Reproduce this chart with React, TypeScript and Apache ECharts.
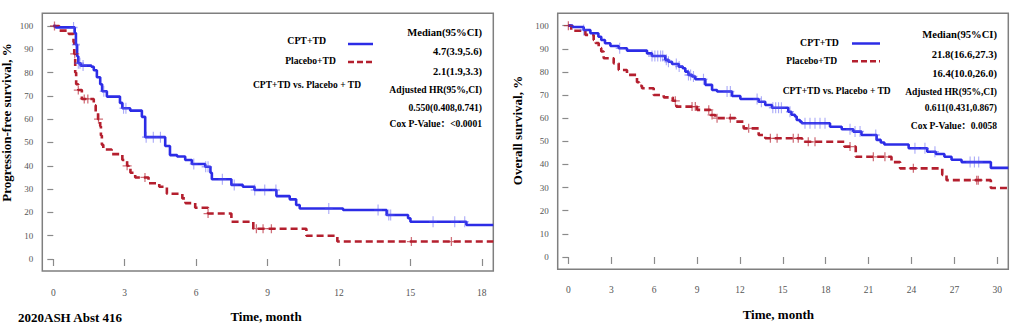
import React, { useEffect, useRef } from 'react';
import * as echarts from 'echarts';

// ---------- PFS (left) ----------
const pfsXTicks = [0, 3, 6, 9, 12, 15, 18];
const yTicks = [0, 10, 20, 30, 40, 50, 60, 70, 80, 90, 100];

const pfsCptTime = [0, 0.1, 0.9, 0.95, 1.0, 1.05, 1.15, 1.6, 1.7, 1.83, 1.97, 2.05, 2.25, 2.8, 2.9, 3.23, 3.72, 3.86, 4.7, 4.9, 5.2, 5.54, 5.82, 6.38, 6.6, 6.66, 7.48, 7.96, 8.45, 9.37, 9.93, 10.2, 10.35, 12.17, 14.0, 14.9, 15.0, 17.35];
const pfsCptSurv = [100, 99.4, 97, 92, 87, 84, 83, 82.5, 81, 78, 75, 72, 69.7, 67, 64.7, 63.7, 61, 52.3, 48.5, 44.6, 44, 42.5, 40.8, 39.6, 37, 34.2, 31.8, 31.0, 29.6, 27.0, 25.6, 23.2, 21.7, 21.0, 18.9, 17.5, 16.0, 14.6];
const pfsCptCensor = [0.85, 0.95, 1.05, 1.12, 1.25, 2.12, 2.95, 3.05, 3.9, 4.2, 4.5, 5.9, 6.4, 6.5, 7.1, 7.6, 8.46, 8.88, 9.35, 11.57, 13.64, 14.09, 14.17, 15.95, 16.86, 17.28];

const pfsPboTime = [0, 0.25, 0.65, 0.85, 0.88, 0.92, 0.96, 1.05, 1.2, 1.7, 1.78, 1.88, 1.97, 2.0, 2.04, 2.1, 2.45, 2.9, 3.1, 3.16, 3.24, 3.44, 4.0, 4.45, 4.77, 5.42, 5.55, 5.96, 6.5, 7.48, 8.4, 10.63, 11.93];
const pfsPboSurv = [100, 98, 96.6, 93, 88, 80, 75, 72.5, 68.7, 66, 63, 60, 57, 53, 49, 47, 45, 42.5, 40, 39, 37, 35, 32.5, 31, 28, 26, 24, 22, 19.5, 16, 13, 10, 7.5];
const pfsPboCensor = [0.05, 0.9, 1.05, 1.3, 1.45, 1.9, 3.1, 3.85, 6.5, 8.53, 8.81, 9.16, 15.04, 16.72];

// ---------- OS (right) ----------
const osXTicks = [0, 3, 6, 9, 12, 15, 18, 21, 24, 27, 30];

const osCptTime = [0, 0.3, 1.07, 1.54, 2.1, 2.3, 2.56, 2.94, 3.52, 4.1, 5.5, 5.85, 6.78, 7.0, 7.25, 7.72, 8.0, 8.18, 8.4, 8.65, 8.88, 9.58, 10.05, 10.4, 11.45, 12.03, 13.31, 13.77, 14.24, 15.38, 15.6, 15.85, 15.97, 16.2, 16.32, 18.3, 19.12, 19.93, 20.5, 21.56, 21.85, 22.1, 23.8, 25.1, 25.7, 26.3, 26.8, 27.5, 29.55];
const osCptSurv = [100, 99.4, 98.1, 96.7, 95.2, 93.8, 92.4, 91.2, 90.2, 89.2, 88, 86.9, 85.2, 84.4, 83.4, 82.3, 81.6, 80.1, 78.7, 78, 76.8, 74.4, 72.2, 71.5, 69.6, 68.3, 67.1, 65.7, 64.5, 62.8, 61.5, 60.7, 59.2, 58.5, 57.8, 56.3, 55.2, 54.2, 52.7, 50.6, 49.5, 48.6, 47, 45.5, 44.5, 43.3, 42, 41, 38.5];
const osCptCensor = [1.07, 3.59, 5.85, 6.05, 6.25, 6.45, 6.6, 6.85, 7.0, 7.55, 7.75, 8.4, 8.55, 8.75, 9.45, 11.1, 11.33, 13.2, 13.5, 14.3, 14.5, 14.7, 14.9, 15.5, 16.55, 16.9, 17.25, 17.6, 17.95, 19.7, 20.05, 20.4, 21.5, 24.24, 24.94, 25.64, 28.1, 28.4, 28.7];

const osPboTime = [0, 0.2, 1.19, 1.77, 1.9, 2.12, 2.3, 2.47, 3.17, 3.52, 4.1, 4.8, 4.95, 5.15, 5.97, 6.67, 7.3, 7.55, 9.0, 9.93, 10.28, 11.68, 12.26, 13.31, 13.77, 16.35, 19.3, 20.1, 22.6, 23.2, 26.15, 26.45, 29.55];
const osPboSurv = [100, 97.8, 96, 93.8, 92.5, 90.3, 88.8, 85.9, 83.7, 80.8, 78.7, 75.5, 74, 72.9, 70, 69, 67.5, 65, 63.6, 61.4, 60, 58.5, 55.6, 52.7, 51.3, 49.8, 47.7, 43.3, 41, 38.3, 35.5, 33.2, 29.8];
const osPboCensor = [0.0, 7.48, 8.65, 8.88, 9.82, 10.05, 10.4, 11.33, 12.61, 14.13, 14.6, 15.73, 16.08, 16.78, 17.25, 19.7, 21.33, 22.14, 24.13, 28.56, 28.67];

const FONT = '"Liberation Serif", "Times New Roman", Times, "Noto Sans CJK SC", serif';
const BLUE = '#2c2ce6';
const RED = '#b41f2e';
const BLUE_C = 'rgba(80,80,240,0.6)';
const RED_C = 'rgba(180,30,46,0.8)';
const PLUS = 'path://M4.3,0h1.4v4.3h4.3v1.4h-4.3v4.3h-1.4v-4.3h-4.3v-1.4h4.3z';

function steps(times: number[], surv: number[], end: number) {
  const d = times.map((t, i) => [t, surv[i]]);
  d.push([end, surv[surv.length - 1]]);
  return d;
}
function survAt(times: number[], surv: number[], t: number) {
  let s = surv[0];
  for (let i = 0; i < times.length; i++) if (times[i] <= t) s = surv[i];
  return s;
}
function censor(times: number[], surv: number[], cs: number[]) {
  return cs.map((t) => [t, survAt(times, surv, t)]);
}

function txt(x: number, y: number, text: string, align: string, size: number, extra: any = {}) {
  return {
    type: 'text',
    x,
    y,
    silent: true,
    ...extra,
    style: {
      text,
      fill: '#000',
      fontFamily: FONT,
      fontWeight: 'bold',
      fontSize: size,
      align,
      verticalAlign: 'middle',
      textAlign: align,
      textVerticalAlign: 'middle',
    },
  };
}
function legLine(x1: number, x2: number, y: number, color: string, dash?: number[]) {
  return {
    type: 'line',
    silent: true,
    shape: { x1, y1: y, x2, y2: y },
    style: { stroke: color, lineWidth: 2.5, lineDash: dash || null },
  };
}

function xAxisCfg(gridIndex: number, min: number, max: number, ticks: number[], margin: number) {
  return {
    type: 'value',
    gridIndex,
    min,
    max,
    axisLine: { show: false },
    splitLine: { show: false },
    axisTick: { show: true, length: 7, customValues: ticks, lineStyle: { color: '#8a8a8a', width: 1.2 } },
    axisLabel: { customValues: ticks, margin, color: '#555', fontSize: 9.5, fontFamily: FONT },
  };
}
function yAxisCfg(gridIndex: number, min: number, max: number) {
  return {
    type: 'value',
    gridIndex,
    min,
    max,
    axisLine: { show: false },
    splitLine: { show: false },
    axisTick: { show: true, length: 6, customValues: yTicks, lineStyle: { color: '#8a8a8a', width: 1.2 } },
    axisLabel: { customValues: yTicks, margin: 9, color: '#555', fontSize: 9, fontFamily: FONT },
  };
}

export default function App() {
  const ref = useRef<HTMLDivElement>(null);
  useEffect(() => {
    if (!ref.current) return;
    const chart = echarts.init(ref.current, undefined, { renderer: 'svg' });
    const pfsMax = 18.48;
    const osMax = 30.77;
    const lineSeries = (xi: number, data: any, color: string, dashed: boolean) => ({
      type: 'line',
      xAxisIndex: xi,
      yAxisIndex: xi,
      data,
      step: 'end',
      symbol: 'none',
      lineStyle: { color, width: 2.6, type: dashed ? [7, 4] : 'solid' },
      z: 2,
    });
    const censorSeries = (xi: number, data: any, color: string, size: number[]) => ({
      type: 'scatter',
      xAxisIndex: xi,
      yAxisIndex: xi,
      data,
      symbol: PLUS,
      symbolSize: size,
      itemStyle: { color },
      z: 3,
    });
    chart.setOption({
      animation: false,
      backgroundColor: '#fff',
      grid: [
        { left: 42.3, top: 13.3, width: 451, height: 257.7, show: true, borderColor: '#7f7f7f', borderWidth: 1.5, backgroundColor: 'transparent' },
        { left: 557.7, top: 13.3, width: 450.6, height: 256, show: true, borderColor: '#7f7f7f', borderWidth: 1.5, backgroundColor: 'transparent' },
      ],
      xAxis: [xAxisCfg(0, -0.462, pfsMax, pfsXTicks, 17), xAxisCfg(1, -0.746, osMax, osXTicks, 16)],
      yAxis: [yAxisCfg(0, -5.15, 105.45), yAxisCfg(1, -5.33, 105.33)],
      series: [
        lineSeries(0, steps(pfsPboTime, pfsPboSurv, pfsMax), RED, true),
        lineSeries(0, steps(pfsCptTime, pfsCptSurv, pfsMax), BLUE, false),
        censorSeries(0, censor(pfsCptTime, pfsCptSurv, pfsCptCensor), BLUE_C, [8, 11]),
        censorSeries(0, censor(pfsPboTime, pfsPboSurv, pfsPboCensor), RED_C, [9, 9]),
        lineSeries(1, steps(osPboTime, osPboSurv, osMax), RED, true),
        lineSeries(1, steps(osCptTime, osCptSurv, osMax), BLUE, false),
        censorSeries(1, censor(osCptTime, osCptSurv, osCptCensor), BLUE_C, [8, 11]),
        censorSeries(1, censor(osPboTime, osPboSurv, osPboCensor), RED_C, [9, 9]),
      ],
      graphic: [
        // left chart
        txt(6.5, 122.5, 'Progression-free survival, %', 'center', 13, { rotation: Math.PI / 2 }),
        txt(266, 316, 'Time, month', 'center', 13),
        txt(18, 317, '2020ASH Abst 416', 'left', 13),
        txt(482, 32, 'Median(95%CI)', 'right', 10.6),
        txt(482, 51, '4.7(3.9,5.6)', 'right', 10.5),
        txt(482, 71, '2.1(1.9,3.3)', 'right', 10.5),
        txt(482, 89, 'Adjusted HR(95%,CI)', 'right', 9.6),
        txt(482, 107, '0.550(0.408,0.741)', 'right', 9.6),
        txt(482, 123.5, 'Cox P-Value：<0.0001', 'right', 9.6),
        txt(306.7, 40.5, 'CPT+TD', 'center', 9.8),
        txt(310.5, 60.5, 'Placebo+TD', 'center', 9.6),
        txt(307, 84.5, 'CPT+TD vs. Placebo + TD', 'center', 9.5),
        legLine(348, 373, 44, BLUE),
        legLine(348, 373, 62, RED, [6, 3]),
        // right chart
        txt(517, 130.5, 'Overall survival, %', 'center', 13, { rotation: Math.PI / 2 }),
        txt(778.3, 314.7, 'Time, month', 'center', 13),
        txt(997, 34, 'Median(95%CI)', 'right', 10.6),
        txt(997, 54, '21.8(16.6,27.3)', 'right', 10.6),
        txt(997, 73.3, '16.4(10.0,26.0)', 'right', 10.5),
        txt(997, 91.7, 'Adjusted HR(95%,CI)', 'right', 9.5),
        txt(997, 108.3, '0.611(0.431,0.867)', 'right', 9.5),
        txt(997, 125.7, 'Cox P-Value：0.0058', 'right', 9.5),
        txt(819.5, 42, 'CPT+TD', 'center', 9.8),
        txt(811.7, 60.7, 'Placebo+TD', 'center', 9.6),
        txt(836.7, 90.7, 'CPT+TD vs. Placebo + TD', 'center', 9.5),
        legLine(852, 880, 43.5, BLUE),
        legLine(852, 880, 61.3, RED, [6, 3]),
      ],
    });
    return () => chart.dispose();
  }, []);
  return <div ref={ref} style={{ position: 'absolute', left: 0, top: 0, width: 1013, height: 330 }} />;
}
